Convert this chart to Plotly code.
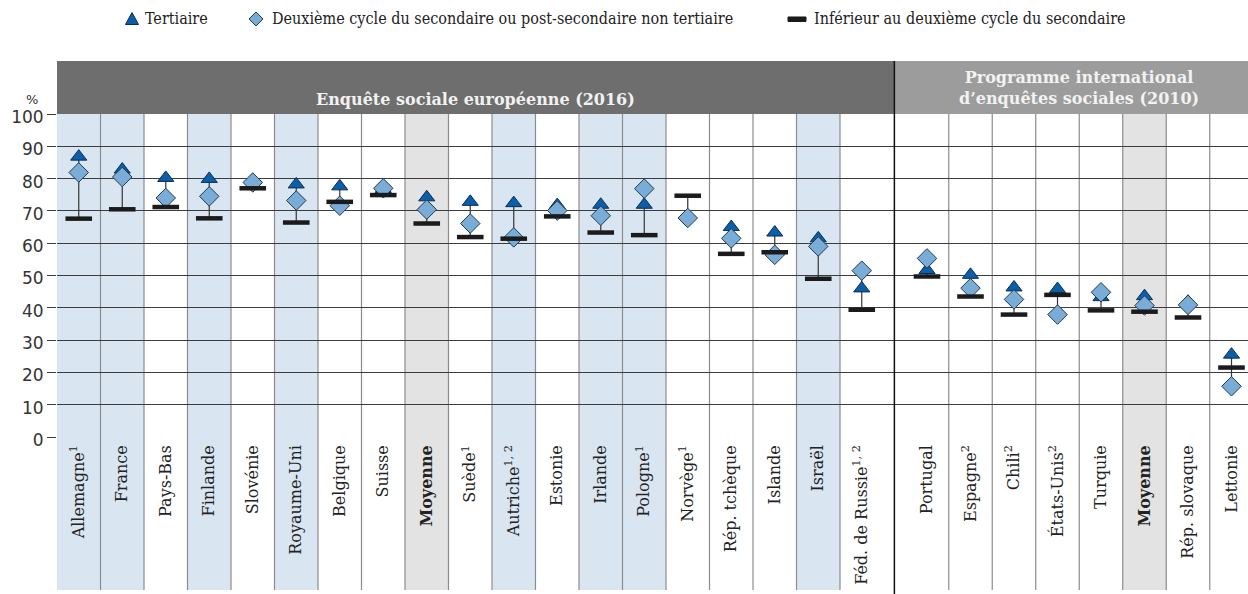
import plotly.graph_objects as go

# --- Data -----------------------------------------------------------------
ess_labels = ["Allemagne<sup>1</sup>", "France", "Pays-Bas", "Finlande", "Slovénie",
              "Royaume-Uni", "Belgique", "Suisse", "<b>Moyenne</b>", "Suède<sup>1</sup>",
              "Autriche<sup>1, 2</sup>", "Estonie", "Irlande", "Pologne<sup>1</sup>",
              "Norvège<sup>1</sup>", "Rép. tchèque", "Islande", "Israël",
              "Féd. de Russie<sup>1, 2</sup>"]
issp_labels = ["Portugal", "Espagne<sup>2</sup>", "Chili<sup>2</sup>", "États-Unis<sup>2</sup>",
               "Turquie", "<b>Moyenne</b>", "Rép. slovaque", "Lettonie"]

tertiary_ess = [86.8, 82.8, 80.2, 79.9, 79.5, 78.2, 77.6, 76.8, 74.2, 72.8, 72.4, 71.8,
                71.9, 71.9, None, 65.0, 63.3, 61.5, 46.0]
upper_sec_ess = [81.9, 80.5, 74.0, 74.5, 78.8, 73.2, 71.6, 77.0, 70.4, 66.1, 61.8, 70.1,
                 68.5, 76.9, 67.8, 61.5, 56.4, 59.0, 51.5]
below_sec_ess = [67.6, 70.5, 71.2, 67.7, 77.0, 66.4, 72.8, 74.9, 66.1, 61.9, 61.4, 68.3,
                 63.3, 62.5, 74.7, 56.7, 57.2, 49.0, 39.4]

tertiary_issp = [51.7, 50.2, 46.3, 45.8, 43.3, 43.6, 41.9, 25.5]
upper_sec_issp = [55.3, 46.1, 42.6, 37.9, 44.8, 40.7, 40.9, 15.7]
below_sec_issp = [49.7, 43.5, 37.9, 44.0, 39.2, 38.8, 37.0, 21.5]

series_names = ["Tertiaire",
                "Deuxième cycle du secondaire ou post-secondaire non tertiaire",
                "Inférieur au deuxième cycle du secondaire"]

# columns with a coloured background
highlight_blue = ["Allemagne<sup>1</sup>", "France", "Finlande", "Royaume-Uni",
                  "Autriche<sup>1, 2</sup>", "Irlande", "Pologne<sup>1</sup>", "Israël"]
highlight_grey = ["<b>Moyenne</b>"]

y_ticks = list(range(0, 101, 10))

# --- Layout geometry ------------------------------------------------------
W, H = 1248, 594
ML, MR, MT, MB = 57, 0, 114, 157
UNIT = 43.5                       # pixels per category slot
x_lo = -0.5
x_hi = x_lo + (W - ML - MR) / UNIT
plot_h = H - MT - MB

ess_pos = list(range(len(ess_labels)))
issp_pos = [len(ess_labels) + 0.5 + i for i in range(len(issp_labels))]
divider = len(ess_labels) - 0.25

labels = ess_labels + issp_labels
pos = ess_pos + issp_pos
tert = tertiary_ess + tertiary_issp
upper = upper_sec_ess + upper_sec_issp
below = below_sec_ess + below_sec_issp

def py(pixel_y):
    """Paper y coordinate for a pixel row of the page."""
    return (H - MB - pixel_y) / plot_h

def px(pixel_x):
    """Paper x coordinate for a pixel column of the page."""
    return (pixel_x - ML) / (W - ML - MR)

# column boundaries
bounds = []
for i, p in enumerate(ess_pos):
    left = p - 0.5
    right = p + 0.5 if i < len(ess_pos) - 1 else divider
    bounds.append((left, right))
for i, p in enumerate(issp_pos):
    left = divider if i == 0 else p - 0.5
    bounds.append((left, p + 0.5))

BLUE_BG = "#d9e6f2"
GREY_BG = "#e3e3e3"
TRI = "#0b5ea8"
TRI_EDGE = "#0d2c55"
DIA = "#79acd6"
DIA_EDGE = "#23384f"
DARK = "#1b1b1b"
GRID = "#3c3c3c"
VLINE = "#8c8c8c"
SERIF = "DejaVu Serif"
SANS = "DejaVu Sans"

shapes = []
label_bottom = py(590)
for lab, (l, r) in zip(labels, bounds):
    fill = BLUE_BG if lab in highlight_blue else GREY_BG if lab in highlight_grey else None
    if fill:
        shapes.append(dict(type="rect", xref="x", yref="paper", x0=l, x1=r,
                           y0=label_bottom, y1=1, fillcolor=fill, line_width=0,
                           layer="below"))
# thin separators between columns
for (l, r) in bounds[:-1]:
    if abs(r - divider) < 1e-9:
        continue
    shapes.append(dict(type="line", xref="x", yref="paper", x0=r, x1=r,
                       y0=label_bottom, y1=1, line=dict(color=VLINE, width=1.2),
                       layer="between"))

# survey header bands
band_top = py(61)
shapes.append(dict(type="rect", xref="x", yref="paper", x0=x_lo, x1=divider,
                   y0=1, y1=band_top, fillcolor="#6e6e6e", line_width=0, layer="above"))
shapes.append(dict(type="rect", xref="x", yref="paper", x0=divider, x1=x_hi + 1,
                   y0=1, y1=band_top, fillcolor="#9c9c9c", line_width=0, layer="above"))
# black divider between the two surveys
shapes.append(dict(type="line", xref="x", yref="paper", x0=divider, x1=divider,
                   y0=py(594), y1=band_top, line=dict(color="#111111", width=1.5),
                   layer="above"))

# --- Legend drawn as symbols + text in the top margin ----------------------
def paper_path(points):
    return "M " + " L ".join(f"{px(a):.5f},{py(b):.5f}" for a, b in points) + " Z"

LEG_Y = 19
legend_items = [
    (132, 143, paper_path([(125.5, 24.5), (138.5, 24.5), (132, 12.5)]), TRI, TRI_EDGE),
    (256, 270, paper_path([(256, 12), (263, 19), (256, 26), (249, 19)]), DIA, DIA_EDGE),
    (797, 812, paper_path([(788, 17), (806, 17), (806, 21.5), (788, 21.5)]), DARK, DARK),
]
annotations = []
for (cx, tx, path, fill, edge), name in zip(legend_items, series_names):
    shapes.append(dict(type="path", xref="paper", yref="paper", path=path,
                       fillcolor=fill, line=dict(color=edge, width=1)))
    annotations.append(dict(text=name, xref="paper", yref="paper", x=px(tx), y=py(LEG_Y),
                            xanchor="left", yanchor="middle", showarrow=False,
                            font=dict(family="DejaVu Serif Condensed, " + SERIF, size=16,
                                      color="#222222")))

# --- Traces ---------------------------------------------------------------
fig = go.Figure()

# range line joining the three values for each country
lx, ly = [], []
for p, a, b, c in zip(pos, tert, upper, below):
    vals = [v for v in (a, b, c) if v is not None]
    lx += [p, p, None]
    ly += [min(vals), max(vals), None]
fig.add_trace(go.Scatter(x=lx, y=ly, mode="lines", line=dict(color="#333333", width=1.2),
                         showlegend=False, hoverinfo="skip"))

fig.add_trace(go.Scatter(
    x=pos, y=tert, mode="markers", name=series_names[0], showlegend=False,
    marker=dict(symbol="triangle-up", size=14, color=TRI,
                line=dict(color=TRI_EDGE, width=1))))
fig.add_trace(go.Scatter(
    x=pos, y=upper, mode="markers", name=series_names[1], showlegend=False,
    marker=dict(symbol="diamond", size=15, color=DIA,
                line=dict(color=DIA_EDGE, width=1))))
fig.add_trace(go.Scatter(
    x=pos, y=below, mode="markers", name=series_names[2], showlegend=False,
    marker=dict(symbol="line-ew", size=19, color=DARK,
                line=dict(color=DARK, width=4.5))))

annotations += [
    dict(text="<b>Enquête sociale européenne (2016)</b>", xref="x", yref="paper",
         x=(x_lo + divider) / 2, y=py(100), showarrow=False,
         font=dict(family=SERIF, size=16, color="#f2f2f2"), yanchor="middle"),
    dict(text="<b>Programme international<br>d’enquêtes sociales (2010)</b>", xref="x",
         yref="paper", x=(1079 - ML) / UNIT + x_lo, y=py(88), showarrow=False,
         font=dict(family=SERIF, size=16, color="#f2f2f2"), yanchor="middle",
         align="center"),
    dict(text="%", xref="paper", yref="paper", x=px(25), y=py(91), borderpad=0,
         showarrow=False, font=dict(family=SANS, size=13, color="#333333")),
]

fig.update_layout(
    width=W, height=H,
    margin=dict(l=ML, r=MR, t=MT, b=MB, pad=0),
    paper_bgcolor="white", plot_bgcolor="white",
    font=dict(family=SERIF, color="#222222"),
    shapes=shapes, annotations=annotations,
    showlegend=False,
    xaxis=dict(range=[x_lo, x_hi], tickvals=pos, ticktext=labels, tickangle=-90,
               showgrid=False, zeroline=False, showline=False, ticks="",
               ticklabelstandoff=4,
               tickfont=dict(family=SERIF, size=16, color="#222222"), fixedrange=True),
    yaxis=dict(range=[0, 100], tickvals=y_ticks, showgrid=True, gridcolor=GRID,
               gridwidth=1.2, zeroline=False, showline=False, ticks="outside",
               ticklen=9, tickcolor=GRID, tickwidth=1.2, ticklabelshift=3,
               tickfont=dict(family=SANS, size=17, color="#333333"), fixedrange=True),
)

fig.write_html("out.html")
